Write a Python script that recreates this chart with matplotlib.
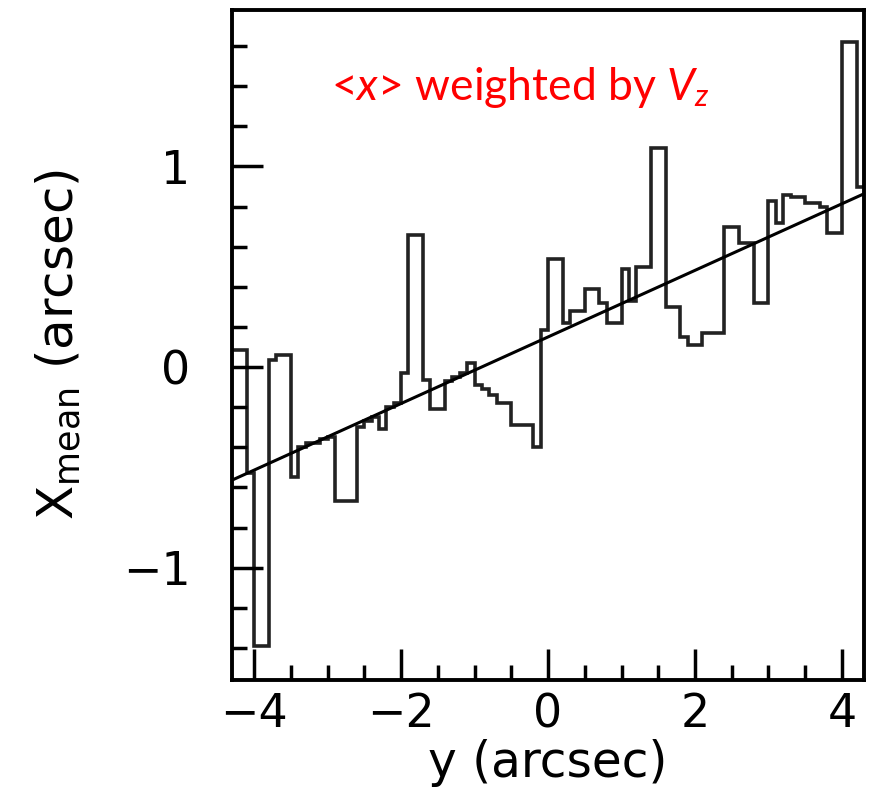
import numpy as np
import matplotlib
matplotlib.use("Agg")
import matplotlib.pyplot as plt
from matplotlib.ticker import MultipleLocator

# binning of the y axis (arcsec)
y_lo, y_hi, n_bins = -4.3, 4.3, 86

# mean x per y bin (arcsec)
x_mean = [
    0.085, 0.085, -0.53, -1.39, -1.39, 0.035, 0.06, 0.06, -0.55, -0.40,
    -0.38, -0.38, -0.36, -0.35, -0.67, -0.67, -0.67, -0.30, -0.27, -0.25,
    -0.31, -0.20, -0.18, -0.03, 0.66, 0.66, -0.065, -0.21, -0.21, -0.07,
    -0.05, -0.03, 0.02, -0.09, -0.11, -0.14, -0.18, -0.18, -0.29, -0.29,
    -0.29, -0.40, 0.185, 0.54, 0.54, 0.22, 0.28, 0.28, 0.39, 0.39,
    0.32, 0.22, 0.22, 0.49, 0.33, 0.50, 0.50, 1.09, 1.09, 0.30,
    0.30, 0.15, 0.11, 0.11, 0.17, 0.17, 0.17, 0.70, 0.70, 0.62,
    0.62, 0.32, 0.32, 0.83, 0.72, 0.86, 0.85, 0.85, 0.82, 0.82,
    0.80, 0.67, 0.67, 1.62, 1.62, 0.90,
]

# linear fit x = a + b*y
fit_a, fit_b = 0.15, 0.166

edges = np.linspace(y_lo, y_hi, n_bins + 1)
fit_y = np.array([y_lo, y_hi])

plt.rcParams["mathtext.fontset"] = "custom"
plt.rcParams["mathtext.rm"] = "Lato"
plt.rcParams["mathtext.it"] = "Lato:italic"

fig = plt.figure(figsize=(8.71, 7.99), dpi=100)
ax = fig.add_axes([0.2664, 0.149, 0.7256, 0.8385])

ax.stairs(x_mean, edges, baseline=None, color="#222222", lw=2.6)
ax.plot(fit_y, fit_a + fit_b * fit_y, color="black", lw=2.2)

ax.set_xlim(y_lo, y_hi)
ax.set_ylim(-1.56, 1.78)

ax.xaxis.set_major_locator(MultipleLocator(2))
ax.xaxis.set_minor_locator(MultipleLocator(0.5))
ax.yaxis.set_major_locator(MultipleLocator(1))
ax.yaxis.set_minor_locator(MultipleLocator(0.2))
ax.tick_params(which="both", direction="in", width=2.5, top=False, right=False,
               labelsize=33)
ax.tick_params(which="major", length=22)
ax.tick_params(which="minor", length=11)
ax.tick_params(axis="x", pad=9)
ax.tick_params(axis="y", pad=30)
for s in ax.spines.values():
    s.set_linewidth(2.8)

ax.set_xlabel("y (arcsec)", fontsize=35, labelpad=1)
ax.set_ylabel(r"X$_{\mathregular{mean}}$ (arcsec)", fontsize=36, labelpad=28)

ax.text(0.456, 0.885, r"<$\mathit{x}$> weighted by $\mathit{V}_{z}$",
        transform=ax.transAxes, ha="center", va="center", color="red",
        fontsize=32, family="Lato")

fig.savefig("out.png", dpi=100)
